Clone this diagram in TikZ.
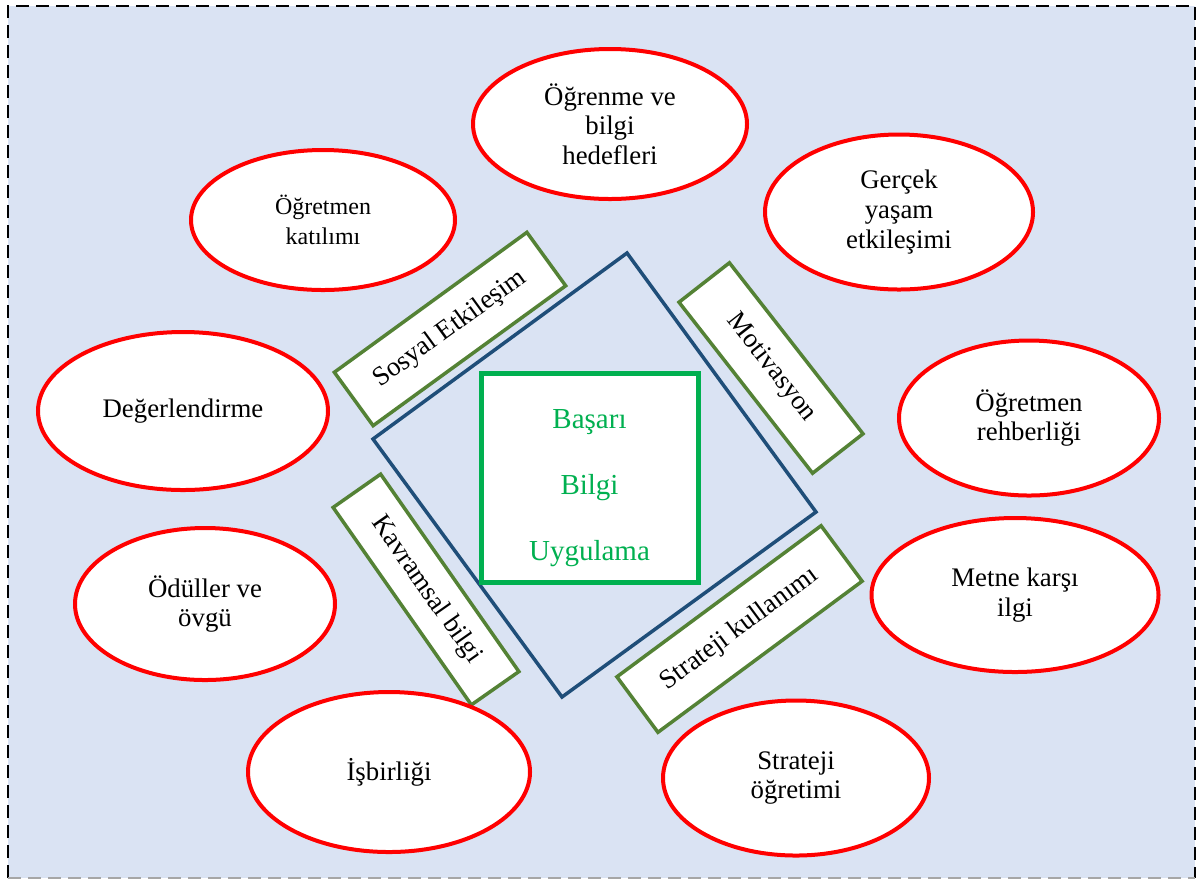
\documentclass[tikz,border=0pt]{standalone}
\usepackage{fontspec}
\setmainfont{Liberation Serif}
\usetikzlibrary{shapes.geometric}
\definecolor{panelblue}{HTML}{DAE3F3}
\definecolor{ringred}{HTML}{FF0000}
\definecolor{boxgreen}{HTML}{548235}
\definecolor{corecolor}{HTML}{00B050}
\definecolor{frameblue}{HTML}{1F4E79}
\tikzset{
  topic/.style={ellipse, draw=ringred, line width=2pt, fill=white, inner sep=0pt,
    align=center, font=\fontsize{13.4}{14.8}\selectfont},
  smalltopic/.style={topic, font=\fontsize{12}{14.8}\selectfont},
  tag/.style={rectangle, draw=boxgreen, line width=1.75pt, fill=white, inner sep=0pt,
    font=\fontsize{13.5}{15}\selectfont},
  core/.style={rectangle, draw=corecolor, line width=2.5pt, fill=white, inner sep=0pt},
  coretext/.style={align=center, text=corecolor, font=\fontsize{14.5}{33}\selectfont},
}
\begin{document}
\begin{tikzpicture}[x=0.5pt, y=-0.5pt]
\useasboundingbox (0,0) rectangle (1197,880);
% panel
\fill[panelblue] (8,6) rectangle (1195,878);
\draw[black, line width=1.2pt, dash pattern=on 6.5pt off 3.5pt] (8,878) -- (8,6) -- (1195,6) -- (1195,878);
\draw[gray!70, line width=1.2pt, dash pattern=on 6.5pt off 3.5pt] (8,878) -- (1195,878);

% outer tilted square
\coordinate (dtop) at (627,253);
\coordinate (dright) at (816,512);
\coordinate (dbottom) at (562,697);
\coordinate (dleft) at (373,439);
\draw[frameblue, line width=1.75pt, line join=miter] (dtop) -- (dright) -- (dbottom) -- (dleft) -- cycle;

% centre square
\node[core, minimum width=108.5pt, minimum height=104.5pt] (center) at (589.5,477.5) {};
\node[coretext] (centertext) at (589.5,488) {Başarı\\Bilgi\\Uygulama};

% tilted labels
\node[tag, rotate=36, minimum width=119pt, minimum height=33pt] (sosyal) at (450,329) {Sosyal Etkileşim};
\node[tag, rotate=-52, minimum width=108.5pt, minimum height=32pt] (motiv) at (771,368) {Motivasyon};
\node[tag, rotate=36.5, minimum width=127pt, minimum height=34.5pt] (strkul) at (739.5,629) {Strateji kullanımı};
\node[tag, rotate=-55, minimum width=120.5pt, minimum height=29pt] (kavram) at (426,589.5) {Kavramsal bilgi};

% surrounding topics
\node[topic, minimum width=137pt, minimum height=75pt] (hedef) at (610,124) {Öğrenme ve\\bilgi\\hedefleri};
\node[smalltopic, minimum width=132pt, minimum height=70pt] (katilim) at (323,220) {Öğretmen\\katılımı};
\node[topic, minimum width=134pt, minimum height=77.5pt] (gercek) at (899,212) {Gerçek\\yaşam\\etkileşimi};
\node[topic, minimum width=145pt, minimum height=79pt] (deger) at (183,411) {Değerlendirme};
\node[topic, minimum width=130pt, minimum height=77.5pt] (rehber) at (1029,418) {Öğretmen\\rehberliği};
\node[topic, minimum width=130pt, minimum height=76pt] (odul) at (205,604) {Ödüller ve\\övgü};
\node[topic, minimum width=143.5pt, minimum height=77pt] (metne) at (1015,595) {Metne karşı\\ilgi};
\node[topic, minimum width=141pt, minimum height=80pt] (isbir) at (389,772) {İşbirliği};
\node[topic, minimum width=133pt, minimum height=77.5pt] (strogr) at (796,778) {Strateji\\öğretimi};
\end{tikzpicture}
\end{document}
